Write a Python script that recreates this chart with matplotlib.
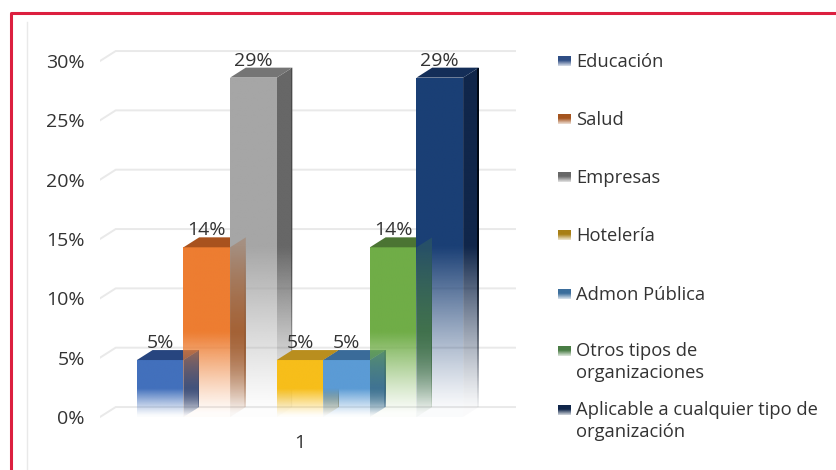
# plot.py
import numpy as np
import matplotlib
matplotlib.use("Agg")
import matplotlib.pyplot as plt
from matplotlib.colors import to_rgb
from matplotlib.lines import Line2D
from matplotlib.patches import Polygon

plt.rcParams["font.family"] = ["Open Sans", "DejaVu Sans"]

categories = ["Educación", "Salud", "Empresas", "Hotelería", "Admon Pública",
              "Otros tipos de\norganizaciones", "Aplicable a cualquier tipo de\norganización"]
values = [4.8, 14.3, 28.6, 4.8, 4.8, 14.3, 28.6]
y_ticks = [0, 5, 10, 15, 20, 25, 30]
x_label = "1"

front_colors = ["#4270BC", "#ED7D31", "#A6A6A6", "#F7BE1A", "#5B9BD5", "#70AD47", "#1A3F75"]
top_colors = ["#27457F", "#A8521E", "#757575", "#B98E1E", "#3A6B99", "#4B7433", "#142E58"]
side_colors = ["#2F4E85", "#A4541F", "#676767", "#A87F14", "#3B6E9C", "#4A7D45", "#10264A"]
edge_colors = ["#1F3864", "#7A3E16", "#4A4A4A", "#7F6010", "#2A5075", "#37592A", "#000814"]
legend_y = [62, 120, 178, 236, 295, 362, 421]

W, H = 837, 470
BAR_W = 46.6      # px per bar
DX, DY = 0.337, 0.84   # depth of the 3d box, in data units
FADE = 0.5


def fade_face(ax, verts, color, value, zorder, overlay=False):
    # polygon filled with the colour, fading out towards the floor
    verts = np.array(verts)
    y_max = verts[:, 1].max()
    ys = np.linspace(y_max, 0, 200)
    rgba = np.ones((200, 2, 4))
    rgba[:, :, :3] = to_rgb(color)
    a = np.clip(ys / (value * FADE), 0.04, 1) ** 1.2
    if overlay:
        a = a * (0.25 + 0.65 * (1 - ys / y_max))
    rgba[:, 0, 3] = a
    rgba[:, 1, 3] = a
    im = ax.imshow(rgba, extent=(verts[:, 0].min(), verts[:, 0].max(), 0, y_max),
                   aspect="auto", zorder=zorder, interpolation="bilinear")
    im.set_clip_path(Polygon(verts, transform=ax.transData))


def side_verts(x, v):
    r = x + 0.5
    return [(r, 0), (r + DX, DY), (r + DX, v + DY), (r, v)]


def edge_verts(x, v):
    r = x + 0.5 + DX
    return [(r - 0.03, DY), (r, DY), (r, v + DY), (r - 0.03, v + DY)]


def draw_chart(ax):
    n = len(values)
    xs = [i - (n - 1) / 2 for i in range(n)]

    # back wall, side wall gridlines
    left = -200 / BAR_W
    for t in y_ticks:
        ax.plot([left, left + DX, 215 / BAR_W], [t, t + DY, t + DY], color="#E9E9E9", lw=1.4, zorder=1)

    for i, (x, v) in enumerate(zip(xs, values)):
        fade_face(ax, side_verts(x, v), side_colors[i], v, 2)
        fade_face(ax, edge_verts(x, v), edge_colors[i], v, 2.5)

    for i, (x, v) in enumerate(zip(xs, values)):
        l, r = x - 0.5, x + 0.5
        fade_face(ax, [(l, 0), (r, 0), (r, v), (l, v)], front_colors[i], v, 3)
        ax.add_patch(Polygon([(l, v), (r, v), (r + DX, v + DY), (l + DX, v + DY)],
                             facecolor=top_colors[i], edgecolor="none", zorder=3))
        ax.text(x, v + DY + 0.6, f"{v:.0f}%", ha="center", va="center", fontsize=14, color="#333333", zorder=5)

    # side faces show through the next bar when that bar is taller
    for i in range(n - 1):
        if values[i + 1] > values[i]:
            fade_face(ax, side_verts(xs[i], values[i]), side_colors[i], values[i], 4, overlay=True)

    ax.set_xlim(-200 / BAR_W, 220 / BAR_W)
    ax.set_ylim(-1.1, 31.7)
    ax.set_xticks([0], [x_label])
    ax.set_yticks(y_ticks, [f"{t}%" for t in y_ticks])
    ax.tick_params(length=0, labelsize=14, labelcolor="#333333")
    ax.tick_params(axis="x", pad=2.5)
    ax.tick_params(axis="y", pad=11)
    for s in ax.spines.values():
        s.set_visible(False)


def draw_legend(fig):
    for i, (name, y) in enumerate(zip(categories, legend_y)):
        fig.text(576 / W, 1 - y / H, name, ha="left", va="center", fontsize=13.2, color="#333333", linespacing=1.3)
        sy = y - 1 if "\n" not in name else y - 11
        sw = fig.add_axes([558 / W, 1 - (sy + 5) / H, 13 / W, 10 / H])
        rgba = np.ones((20, 1, 4))
        rgba[:, :, :3] = to_rgb(side_colors[i])
        rgba[:, 0, 3] = np.clip(np.linspace(1.6, 0.2, 20), 0, 1)
        sw.imshow(rgba, aspect="auto", interpolation="bilinear")
        sw.axis("off")


def main():
    fig = plt.figure(figsize=(W / 100, H / 100), dpi=100)
    fig.patch.set_facecolor("white")

    # axes box in px: x 100-520, y from 30% (61) to 0% (417) + margins
    top_px = 61 - 1.7 * 356 / 30
    bot_px = 417 + 1.1 * 356 / 30
    ax = fig.add_axes([100 / W, 1 - bot_px / H, 420 / W, (bot_px - top_px) / H])
    ax.set_facecolor("none")
    draw_chart(ax)
    draw_legend(fig)

    # red frame and faint inner line
    fig.add_artist(Line2D([11 / W, 11 / W, 1], [0, 1 - 13 / H, 1 - 13 / H], color="#DC1F3F", lw=2.2))
    fig.add_artist(Line2D([27 / W, 27 / W], [0, 1 - 22 / H], color="#E9E9E9", lw=1))

    fig.savefig("out.png", dpi=100)


main()
